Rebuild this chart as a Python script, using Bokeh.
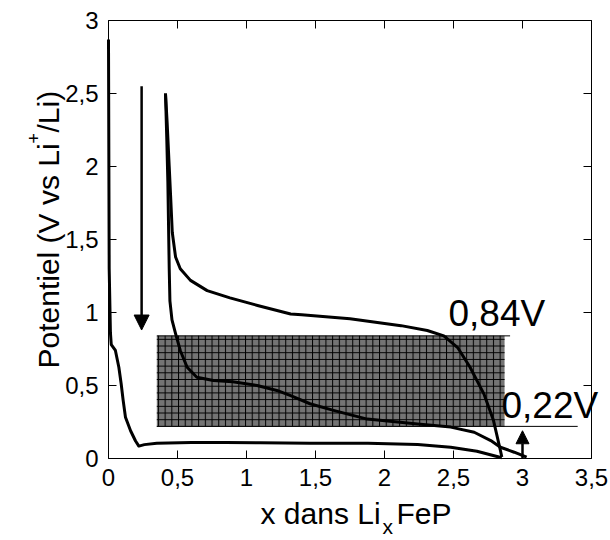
import math
from bokeh.plotting import figure
from bokeh.models import Range1d, LinearAxis, FixedTicker, Label, Arrow, NormalHead
from bokeh.embed import file_html
from bokeh.resources import INLINE

# ---------------- data ----------------
x_ticks = [0.0, 0.5, 1.0, 1.5, 2.0, 2.5, 3.0, 3.5]
x_tick_labels = ["0", "0,5", "1", "1,5", "2", "2,5", "3", "3,5"]
y_ticks = [0.0, 0.5, 1.0, 1.5, 2.0, 2.5, 3.0]
y_tick_labels = ["0", "0,5", "1", "1,5", "2", "2,5", "3"]

# first discharge
disch1_x = [0, 0.005, 0.014, 0.02, 0.05, 0.075, 0.092, 0.106, 0.123, 0.16, 0.196, 0.22, 0.26,
            0.35, 0.6, 0.85, 1.1, 1.46, 1.88, 2.24, 2.48, 2.67, 2.85]
disch1_y = [2.87, 1.3, 0.86, 0.78, 0.74, 0.625, 0.51, 0.4, 0.283, 0.19, 0.12, 0.085, 0.095,
            0.105, 0.11, 0.11, 0.108, 0.105, 0.105, 0.096, 0.077, 0.05, 0.005]

# charge
charge_x = [2.85, 2.84, 2.79, 2.72, 2.62, 2.53, 2.43, 2.31, 2.12, 1.75, 1.4, 1.32, 1.08,
            0.88, 0.715, 0.594, 0.52, 0.486, 0.462, 0.45, 0.44, 0.425, 0.413]
charge_y = [0.01, 0.055, 0.26, 0.443, 0.625, 0.76, 0.84, 0.877, 0.91, 0.957, 0.985, 0.99, 1.048,
            1.10, 1.15, 1.22, 1.30, 1.38, 1.55, 1.8, 2.0, 2.3, 2.5]

# second discharge
disch2_x = [0.413, 0.422, 0.43, 0.435, 0.44, 0.445, 0.46, 0.486, 0.52, 0.57, 0.64, 0.76, 0.9,
            1.077, 1.22, 1.32, 1.46, 1.63, 1.875, 2.24, 2.48, 2.65, 2.77, 2.84, 2.94, 3.03]
disch2_y = [2.5, 2.2, 1.9, 1.6, 1.3, 1.08, 0.95, 0.856, 0.74, 0.625, 0.557, 0.534, 0.525,
            0.5, 0.466, 0.43, 0.375, 0.33, 0.27, 0.237, 0.215, 0.18, 0.123, 0.077, 0.043, 0.01]

# hysteresis box (0.22 V -> 0.84 V)
box_x = [0.35, 2.87]
box_y = [0.22, 0.84]
box_line_end = [3.4, 2.91]   # ends of the bottom / top reference lines
box_labels = ["0,22V", "0,84V"]

# arrows
down_arrow = dict(x=0.24, y0=2.55, y1=0.88)
up_arrow = dict(x=3.0, y0=0.0, y1=0.19)

FONT = "Liberation Sans"

# ---------------- layout (pixels) ----------------
W, H = 610, 540
X0_PX, Y0_PX = 108, 458      # pixel position of data (0, 0)
UX, UY = 138.0, 146.0        # pixels per data unit

def dx(px):
    return (px - X0_PX) / UX

def dy(py):
    return (Y0_PX - py) / UY

p = figure(width=W, height=H, x_range=Range1d(dx(0), dx(W)), y_range=Range1d(dy(H), dy(0)),
           output_backend="svg", toolbar_location=None,
           x_axis_location=None, y_axis_location=None,
           min_border=0, min_border_left=0, min_border_right=0,
           min_border_top=0, min_border_bottom=0)
p.grid.visible = False
p.outline_line_color = None
p.background_fill_color = "white"
p.border_fill_color = "white"

def make_axis(loc, bounds, ticks, labels, show_labels, standoff):
    ax = LinearAxis(fixed_location=loc, bounds=bounds)
    ax.ticker = FixedTicker(ticks=ticks)
    ax.major_label_overrides = {t: l for t, l in zip(ticks, labels)}
    ax.major_tick_in = 8
    ax.major_tick_out = 0
    ax.minor_tick_line_color = None
    ax.axis_line_color = "black"
    ax.axis_line_width = 1
    ax.major_tick_line_color = "black"
    ax.major_tick_line_width = 1
    ax.major_label_text_font = FONT
    ax.major_label_text_color = "black"
    if show_labels:
        ax.major_label_text_font_size = "24px"
        ax.major_label_standoff = standoff
    else:
        ax.major_label_text_font_size = "0px"
        ax.major_label_standoff = 0
        ax.major_label_text_alpha = 0
    return ax

p.add_layout(make_axis(0, (0, 3.5), x_ticks, x_tick_labels, True, 10), "below")
p.add_layout(make_axis(0, (0, 3), y_ticks, y_tick_labels, True, 10), "left")
p.add_layout(make_axis(3, (0, 3.5), x_ticks, x_tick_labels, False, 0), "above")
p.add_layout(make_axis(3.5, (0, 3), y_ticks, y_tick_labels, False, 0), "right")

# hatched box
p.quad(left=[box_x[0]], right=[box_x[1]], bottom=[box_y[0]], top=[box_y[1]],
       fill_color="#747474", line_color=None,
       hatch_pattern="+", hatch_color="black", hatch_scale=6.7, hatch_weight=1)
p.segment(x0=[box_x[0], box_x[0]], y0=box_y, x1=box_line_end, y1=box_y,
          line_color="black", line_width=1)

# curves
for xs, ys in [(disch1_x, disch1_y), (charge_x, charge_y), (disch2_x, disch2_y)]:
    p.line(xs, ys, line_color="black", line_width=3, line_join="round")

# arrows
p.add_layout(Arrow(end=NormalHead(size=15, fill_color="black", line_color="black"),
                   x_start=down_arrow["x"], y_start=down_arrow["y0"],
                   x_end=down_arrow["x"], y_end=down_arrow["y1"],
                   line_width=2.5, line_color="black"))
p.add_layout(Arrow(end=NormalHead(size=13, fill_color="black", line_color="black"),
                   x_start=up_arrow["x"], y_start=up_arrow["y0"],
                   x_end=up_arrow["x"], y_end=up_arrow["y1"],
                   line_width=2.5, line_color="black"))

# annotations
p.add_layout(Label(x=dx(448), y=dy(313), text=box_labels[1], text_font=FONT,
                   text_font_size="37px", text_color="black", text_baseline="alphabetic"))
p.add_layout(Label(x=dx(501), y=dy(405), text=box_labels[0], text_font=FONT,
                   text_font_size="37px", text_color="black", text_baseline="alphabetic"))

# x axis title: x dans Li_x FeP
for txt, px, py, fs in [("x dans Li", 260, 513, "30px"),
                        ("x", 382, 526, "21px"),
                        ("FeP", 396, 513, "30px")]:
    p.add_layout(Label(x=dx(px), y=dy(py), text=txt, text_font=FONT, text_font_size=fs,
                       text_color="black", text_baseline="alphabetic", text_align="left"))

# y axis title: Potentiel (V vs Li+/Li)  (rotated, reading upward)
for txt, px, py, fs in [("Potentiel (V vs Li", 48, 368, "30px"),
                        ("+", 33, 143, "18px"),
                        ("/Li)", 48, 132, "30px")]:
    p.add_layout(Label(x=dx(px), y=dy(py), text=txt, text_font=FONT, text_font_size=fs,
                       text_color="black", text_baseline="alphabetic", text_align="left",
                       angle=math.pi / 2))

open("out.html", "w").write(file_html(p, INLINE))
